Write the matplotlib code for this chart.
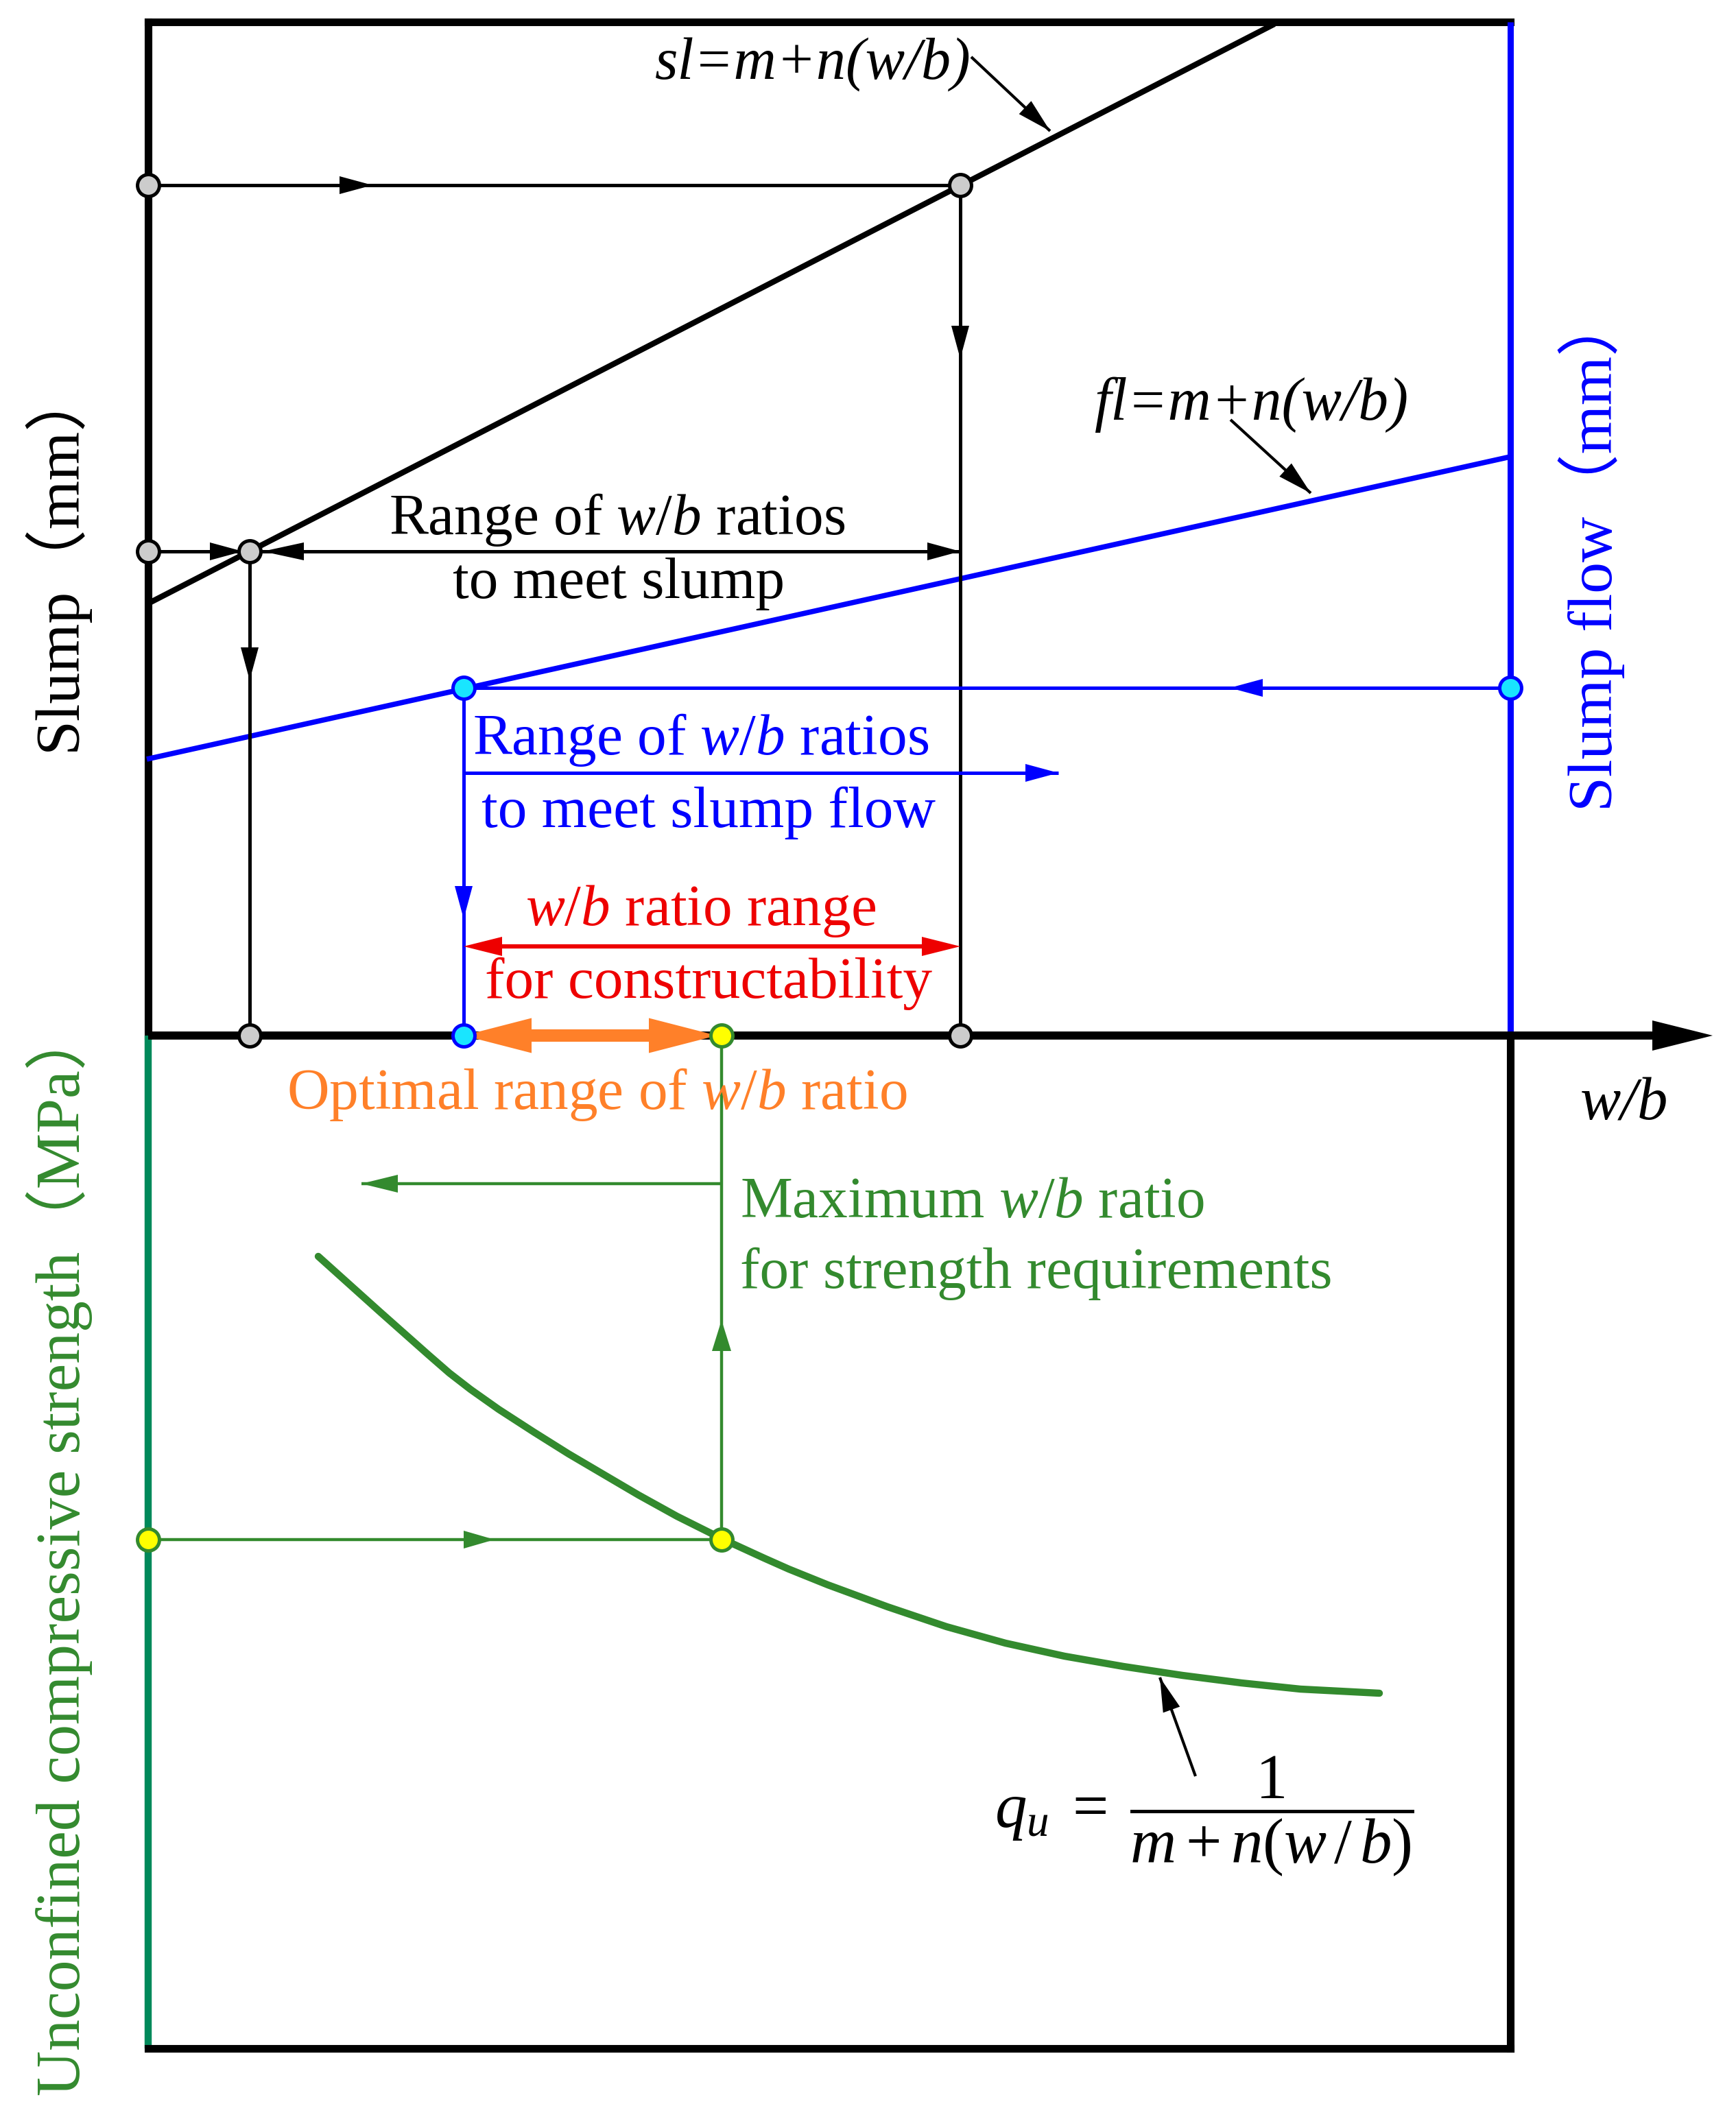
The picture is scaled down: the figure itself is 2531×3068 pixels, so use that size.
import matplotlib
matplotlib.use("Agg")
import matplotlib.pyplot as plt
from matplotlib.patches import Polygon
import numpy as np

plt.rcParams['font.family'] = ['Liberation Serif', 'Noto Sans CJK SC']
plt.rcParams['mathtext.fontset'] = 'custom'
plt.rcParams['mathtext.rm'] = 'Liberation Serif'
plt.rcParams['mathtext.it'] = 'Liberation Serif:italic'
plt.rcParams['mathtext.bf'] = 'Liberation Serif:bold'

# colours
BLUE = '#0000ff'
CYAN = '#19e5ff'
RED = '#ee0000'
ORANGE = '#ff8029'
GREEN = '#338a2e'
GREEN_AXIS = '#00895a'
GREY = '#cccccc'
YELLOW = '#ffff00'

# schematic frame (w/b to the right, levels downwards)
left, right = 216, 2202
top, axis_y, bottom = 32, 1510, 2987
axis_tip = 2497

# sl = m + n(w/b)
sl_x = [216, 1858]
sl_y = [880, 35]
# fl = m + n(w/b)
fl_x = [214, 2202]
fl_y = [1107, 666]
# q_u = 1 / (m + n(w/b))
qu_x = [464, 553, 624, 655, 686, 727, 778, 829, 880, 931, 987, 1053, 1114, 1150,
        1207, 1294, 1380, 1466, 1552, 1638, 1724, 1810, 1896, 2011]
qu_y = [1832, 1912, 1975, 2002, 2026, 2055, 2088, 2120, 2150, 2180, 2211, 2244, 2272, 2288,
        2311, 2343, 2372, 2396, 2415, 2430, 2443, 2454, 2463, 2469]

# w/b values on the axis
wb_sl_lo, wb_sl_hi = 364, 1400
wb_fl_lo = 676
wb_qu_hi = 1052
# required levels
sl_hi, sl_lo = 270, 804
fl_level = 1003
qu_level = 2245
fl_range_y, fl_range_end = 1127, 1543
red_y = 1380
qu_back_y, qu_back_end = 1726, 527

fig = plt.figure(figsize=(25.31, 30.68), dpi=100)
ax = fig.add_axes([0, 0, 1, 1])
ax.set_xlim(0, 2531)
ax.set_ylim(3068, 0)
ax.axis('off')


def head(x0, y0, x1, y1, color, L=48, W=26):
    d = np.array([x1 - x0, y1 - y0], float)
    d /= np.hypot(*d)
    p = np.array([-d[1], d[0]])
    tip = np.array([x1, y1], float)
    base = tip - d * L
    ax.add_patch(Polygon([tip, base + p * W / 2, base - p * W / 2], closed=True,
                         fc=color, ec='none', zorder=4))


def seg(xs, ys, color, lw, z=2, cap='butt'):
    ax.plot(xs, ys, color=color, lw=lw, solid_capstyle=cap, zorder=z)


def dot(x, y, fc, ec):
    ax.plot(x, y, 'o', ms=23, mfc=fc, mec=ec, mew=3.6, zorder=6)


# frame and axes
seg([left, right], [top, top], 'k', 8, cap='projecting')
seg([left, left], [top, axis_y], 'k', 8, cap='projecting')
seg([left, left], [axis_y, bottom], GREEN_AXIS, 7.5)
seg([left, right], [bottom, bottom], 'k', 8, cap='projecting')
seg([right, right], [top, axis_y], BLUE, 6.5)
seg([right, right], [axis_y, bottom], 'k', 8, cap='projecting')
seg([left, axis_tip - 80], [axis_y, axis_y], 'k', 8.5)
head(left, axis_y, axis_tip, axis_y, 'k', L=88, W=44)

# slump and slump flow lines
seg(sl_x, sl_y, 'k', 6)
seg(fl_x, fl_y, BLUE, 5.5)

# slump requirement
seg([left, wb_sl_hi], [sl_hi, sl_hi], 'k', 3.6)
head(left, sl_hi, 543, sl_hi, 'k')
seg([wb_sl_hi, wb_sl_hi], [sl_hi, axis_y], 'k', 3.6)
head(wb_sl_hi, sl_hi, wb_sl_hi, 523, 'k')
seg([left, wb_sl_lo], [sl_lo, sl_lo], 'k', 3.6)
head(left, sl_lo, wb_sl_lo - 10, sl_lo, 'k')
seg([wb_sl_lo, wb_sl_hi], [sl_lo, sl_lo], 'k', 3.6)
head(wb_sl_hi, sl_lo, wb_sl_lo + 19, sl_lo, 'k', L=60)
head(wb_sl_lo, sl_lo, wb_sl_hi, sl_lo, 'k')
seg([wb_sl_lo, wb_sl_lo], [sl_lo, axis_y], 'k', 3.6)
head(wb_sl_lo, sl_lo, wb_sl_lo, 992, 'k')
for x, y in [(left, sl_hi), (wb_sl_hi, sl_hi), (left, sl_lo), (wb_sl_lo, sl_lo),
             (wb_sl_lo, axis_y), (wb_sl_hi, axis_y)]:
    dot(x, y, GREY, 'k')

# slump flow requirement
seg([right, wb_fl_lo], [fl_level, fl_level], BLUE, 3.6)
head(right, fl_level, 1793, fl_level, BLUE)
seg([wb_fl_lo, wb_fl_lo], [fl_level, axis_y], BLUE, 3.6)
head(wb_fl_lo, fl_level, wb_fl_lo, 1340, BLUE)
seg([wb_fl_lo, fl_range_end], [fl_range_y, fl_range_y], BLUE, 3.6)
head(wb_fl_lo, fl_range_y, fl_range_end, fl_range_y, BLUE)
for x, y in [(wb_fl_lo, fl_level), (right, fl_level), (wb_fl_lo, axis_y)]:
    dot(x, y, CYAN, BLUE)

# constructability range
seg([wb_fl_lo + 50, wb_sl_hi - 50], [red_y, red_y], RED, 4.5)
head(wb_sl_hi, red_y, wb_fl_lo, red_y, RED, L=56, W=28)
head(wb_fl_lo, red_y, wb_sl_hi, red_y, RED, L=56, W=28)

# optimal range
seg([wb_fl_lo + 90, wb_qu_hi - 90], [axis_y, axis_y], ORANGE, 13, z=5)
head(wb_qu_hi, axis_y, wb_fl_lo, axis_y, ORANGE, L=99, W=51)
head(wb_fl_lo, axis_y, wb_qu_hi - 7, axis_y, ORANGE, L=99, W=51)

# strength requirement
ax.plot(qu_x, qu_y, color=GREEN, lw=7.5, solid_capstyle='round', solid_joinstyle='round', zorder=3)
seg([left, wb_qu_hi], [qu_level, qu_level], GREEN, 3.2)
head(left, qu_level, 721, qu_level, GREEN, L=45, W=26)
seg([wb_qu_hi, wb_qu_hi], [qu_level, axis_y], GREEN, 3.2)
head(wb_qu_hi, qu_level, wb_qu_hi, 1925, GREEN, L=45, W=28)
seg([wb_qu_hi, qu_back_end], [qu_back_y, qu_back_y], GREEN, 3.2)
head(wb_qu_hi, qu_back_y, qu_back_end, qu_back_y, GREEN, L=53, W=26)
for x, y in [(left, qu_level), (wb_qu_hi, qu_level), (wb_qu_hi, axis_y)]:
    dot(x, y, YELLOW, GREEN)

# pointers to the equations
for (x0, y0), (x1, y1) in [((1416, 83), (1531, 191)), ((1794, 612), (1911, 719)),
                           ((1743, 2590), (1691, 2446))]:
    seg([x0, x1], [y0, y1], 'k', 3)
    head(x0, y0, x1, y1, 'k', L=50, W=26)

# texts
fs = 61.5
ax.text(1185, 115, 'sl=m+n(w/b)', style='italic', ha='center', va='baseline', fontsize=62)
ax.text(1824, 612, 'fl=m+n(w/b)', style='italic', ha='center', va='baseline', fontsize=63)
ax.text(900, 779, r'Range of $\mathit{w/b}$ ratios', ha='center', va='baseline', fontsize=fs)
ax.text(902, 872, 'to meet slump', ha='center', va='baseline', fontsize=fs)
ax.text(1022, 1100, r'Range of $\mathit{w/b}$ ratios', color=BLUE, ha='center', va='baseline', fontsize=fs)
ax.text(1033, 1206, 'to meet slump flow', color=BLUE, ha='center', va='baseline', fontsize=fs)
ax.text(1022, 1349, r'$\mathit{w/b}$ ratio range', color=RED, ha='center', va='baseline', fontsize=fs)
ax.text(1033, 1455, 'for constructability', color=RED, ha='center', va='baseline', fontsize=fs)
ax.text(870, 1617, r'Optimal range of $\mathit{w/b}$ ratio', color=ORANGE, ha='center', va='baseline', fontsize=fs)
ax.text(1079, 1775, r'Maximum $\mathit{w/b}$ ratio', color=GREEN, ha='left', va='baseline', fontsize=fs)
ax.text(1079, 1878, 'for strength requirements', color=GREEN, ha='left', va='baseline', fontsize=fs)
ax.text(2368, 1633, 'w/b', style='italic', ha='center', va='baseline', fontsize=64)
ax.text(1450, 2648, r'$q_u\;=\;\dfrac{1}{m+n(w\,/\,b)}$', ha='left', va='center', fontsize=67)

ax.text(80, 813, 'Slump（mm）', rotation=90, ha='center', va='center', fontsize=66)
ax.text(86, 2262, 'Unconfined compressive strength（MPa）', rotation=90, color=GREEN,
        ha='center', va='center', fontsize=66)
ax.text(2320, 805, 'Slump flow（mm）', rotation=90, color=BLUE, ha='center', va='center', fontsize=66)

fig.savefig('out.png', dpi=100)
